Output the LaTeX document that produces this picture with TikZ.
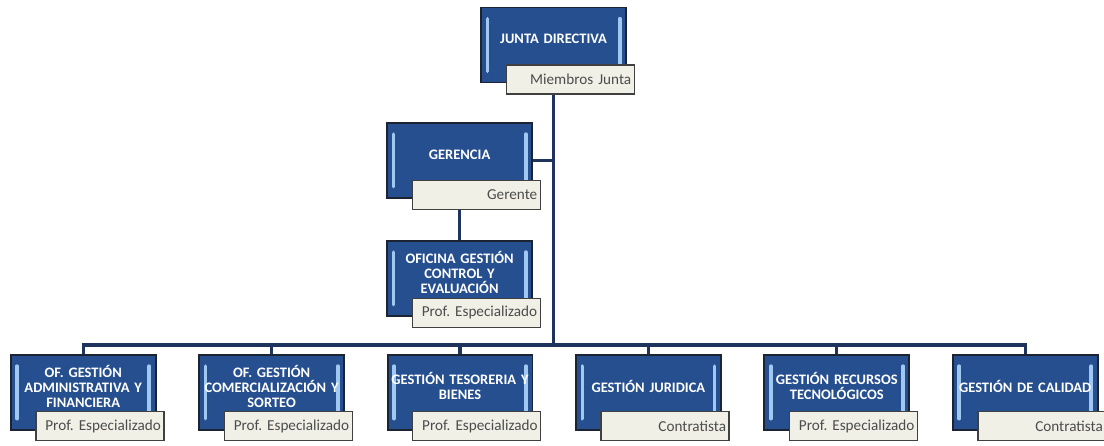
\documentclass[tikz,border=0pt]{standalone}
\usepackage{fontspec}
\setmainfont{Carlito}
\usepackage{tikz}
\usepackage{xcolor}
\definecolor{boxblue}{RGB}{38,79,144}
\definecolor{boxedge}{RGB}{28,36,52}
\definecolor{glowblue}{RGB}{160,200,240}
\definecolor{linkblue}{RGB}{30,52,92}
\definecolor{rolecream}{RGB}{240,240,231}
\usetikzlibrary{calc}
\frenchspacing

\tikzset{
  unit/.style={draw=boxedge, line width=1.3pt, fill=boxblue, minimum width=3.6cm, minimum height=1.875cm,
    text width=3.55cm, align=center, inner sep=1pt, text=white,
    font=\fontsize{10.3}{10.6}\selectfont\bfseries,
    execute at end node={\\[-2pt]\mbox{}},
    path picture={
      \draw[glowblue, line width=2.6pt, line cap=round]
        ([xshift=4.5pt,yshift=8pt]path picture bounding box.south west) -- ([xshift=4.5pt,yshift=-8pt]path picture bounding box.north west);
      \draw[glowblue, line width=2.6pt, line cap=round]
        ([xshift=-4.5pt,yshift=8pt]path picture bounding box.south east) -- ([xshift=-4.5pt,yshift=-8pt]path picture bounding box.north east);
    }},
  role/.style={draw=black!75, line width=1pt, fill=rolecream, minimum width=3.2cm, minimum height=0.72cm,
    text width=3.05cm, align=right, inner sep=2pt, text=black!70, font=\fontsize{10.8}{11}\selectfont, anchor=east},
  link/.style={draw=linkblue, line width=2.3pt}
}

\begin{document}
\begin{tikzpicture}
\useasboundingbox (0,0) rectangle (27.6,-11.15);

% top
\node[unit] (jd) at (13.84,-1.125) {JUNTA DIRECTIVA};
\node[role] (jdr) at ($(jd.south east)+(0.2,0.1)$) {Miembros Junta};

\node[unit] (ger) at (11.49,-4.01) {GERENCIA};
\node[role] (gerr) at ($(ger.south east)+(0.2,0.1)$) {Gerente};

\node[unit] (of) at (11.49,-6.96) {OFICINA GESTIÓN\\CONTROL Y\\EVALUACIÓN};
\node[role] (ofr) at ($(of.south east)+(0.2,0.1)$) {Prof. Especializado};

% bottom row
\foreach \x/\txt/\rol [count=\i] in {
  2.08/{OF. GESTIÓN\\ADMINISTRATIVA Y\\FINANCIERA}/Prof. Especializado,
  6.79/{OF. GESTIÓN\\COMERCIALIZACIÓN Y\\SORTEO}/Prof. Especializado,
  11.5/{GESTIÓN TESORERIA Y\\BIENES}/Prof. Especializado,
  16.21/{GESTIÓN JURIDICA}/Contratista,
  20.92/{GESTIÓN RECURSOS\\TECNOLÓGICOS}/Prof. Especializado,
  25.63/{GESTIÓN DE CALIDAD}/Contratista}{
  \node[unit] (u\i) at (\x,-9.81) {\txt};
  \node[role] (r\i) at ($(u\i.south east)+(0.2,0.12)$) {\rol};
}

% lines
\coordinate (busL) at (2.08,-8.625);
\coordinate (busR) at (25.63,-8.625);
\draw[link] (jdr.south -| jd.south) -- (jd.south |- busL);
\draw[link] (ger.east) -- (ger.east -| jd.south);
\draw[link] (gerr.south -| ger.south) -- (of.north);
\draw[link] ([xshift=-1.1pt]busL) -- ([xshift=1.1pt]busR);
\foreach \i in {1,...,6}
  \draw[link] (u\i.north) -- (u\i.north |- busL);
\end{tikzpicture}
\end{document}
